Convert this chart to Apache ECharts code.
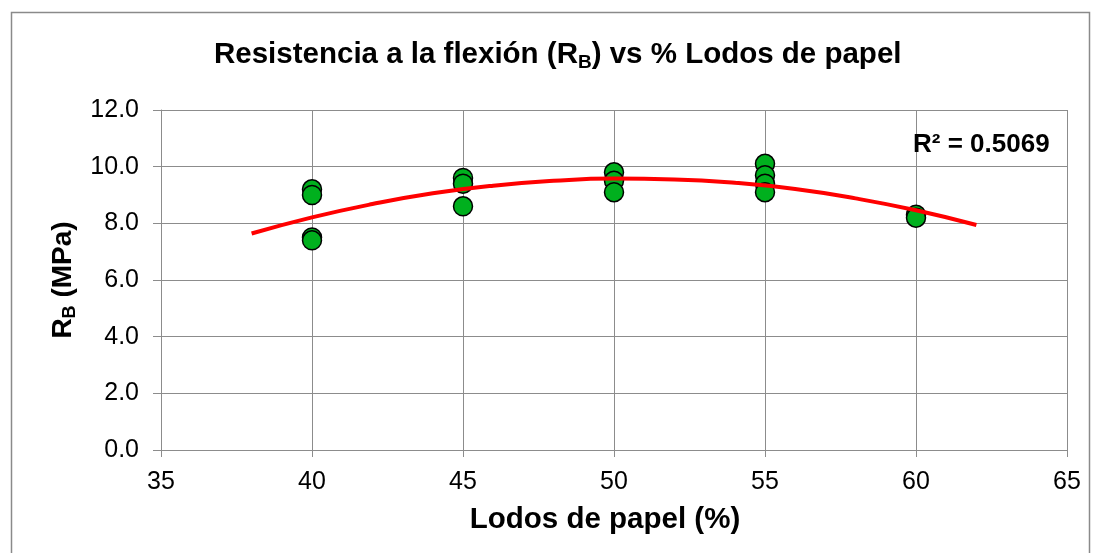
<!DOCTYPE html>
<html lang="es">
<head>
    <meta charset="UTF-8">
    <title>Resistencia a la flexión vs % Lodos de papel</title>
    <style>
        html, body { margin: 0; padding: 0; background: #fff; }
    </style>
</head>
<body>
<div id="main" style="width: 1094px;height:553px;"></div>
<script src="https://cdn.jsdelivr.net/npm/echarts@6/dist/echarts.min.js"></script>
<script>
    // puntos medidos
    var lodos = [40, 40, 40, 40, 45, 45, 45, 50, 50, 50, 55, 55, 55, 55, 60, 60];
    var rb = [9.2, 9.0, 7.5, 7.4, 9.6, 9.4, 8.6, 9.8, 9.5, 9.1, 10.1, 9.7, 9.4, 9.1, 8.3, 8.2];

    // linea de tendencia
    var trendX = [38, 40, 42, 44, 46, 48, 50, 52, 54, 56, 58, 60, 62];
    var trendY = [7.64, 8.21, 8.68, 9.06, 9.33, 9.50, 9.58, 9.55, 9.43, 9.21, 8.88, 8.46, 7.94];

    var xTicks = [35, 40, 45, 50, 55, 60, 65];
    var yTicks = [0, 2, 4, 6, 8, 10, 12];
    var r2Text = 'R² = 0.5069';

    var font = '"Liberation Sans", Arial, sans-serif';
    var gridColor = '#8c8c8c';

    var points = lodos.map(function (x, i) { return [x, rb[i]]; });
    var trend = trendX.map(function (x, i) { return [x, trendY[i]]; });

    var myChart = echarts.init(document.getElementById('main'));

    var option = {
        backgroundColor: '#fff',
        animation: false,
        title: {
            text: '{a|Resistencia a la flexión (R}{s|B}{a|) vs % Lodos de papel}',
            left: 214,
            top: 38,
            padding: 0,
            textStyle: {
                rich: {
                    a: { fontFamily: font, fontWeight: 'bold', fontSize: 29.5, color: '#000', lineHeight: 34, verticalAlign: 'middle' },
                    s: { fontFamily: font, fontWeight: 'bold', fontSize: 19, color: '#000', lineHeight: 19, verticalAlign: 'bottom' }
                }
            }
        },
        grid: {
            left: 161,
            right: 27,
            top: 110,
            bottom: 103
        },
        xAxis: {
            type: 'value',
            min: xTicks[0],
            max: xTicks[xTicks.length - 1],
            interval: 5,
            name: 'Lodos de papel (%)',
            nameLocation: 'middle',
            nameGap: 55,
            nameTextStyle: { fontFamily: font, fontWeight: 'bold', fontSize: 29.5, color: '#000', padding: [0, 18, 0, 0] },
            axisLine: { show: true, onZero: false, lineStyle: { color: gridColor, width: 1 } },
            axisTick: { show: true, inside: false, length: 7, lineStyle: { color: gridColor } },
            axisLabel: { fontFamily: font, fontSize: 25, color: '#000', margin: 20 },
            splitLine: { show: true, lineStyle: { color: gridColor, width: 1 } }
        },
        yAxis: {
            type: 'value',
            min: yTicks[0],
            max: yTicks[yTicks.length - 1],
            interval: 2,
            name: '{a|R}{s|B}{a| (MPa)}',
            nameLocation: 'middle',
            nameGap: 82,
            nameTextStyle: {
                rich: {
                    a: { fontFamily: font, fontWeight: 'bold', fontSize: 28, color: '#000', lineHeight: 32, verticalAlign: 'middle' },
                    s: { fontFamily: font, fontWeight: 'bold', fontSize: 18, color: '#000', lineHeight: 18, verticalAlign: 'bottom' }
                }
            },
            axisLine: { show: true, lineStyle: { color: gridColor, width: 1 } },
            axisTick: { show: true, inside: false, length: 8, lineStyle: { color: gridColor } },
            axisLabel: {
                fontFamily: font, fontSize: 25, color: '#000', margin: 22,
                formatter: function (v) { return v.toFixed(1); }
            },
            splitLine: { show: true, lineStyle: { color: gridColor, width: 1 } }
        },
        graphic: [
            {
                type: 'rect',
                silent: true,
                shape: { x: 11.5, y: 12.5, width: 1078, height: 600 },
                style: { fill: null, stroke: '#8a8a8a', lineWidth: 1.5 }
            },
            {
                type: 'text',
                left: 913,
                top: 132,
                z: 10,
                style: {
                    text: r2Text,
                    fontFamily: font,
                    fontWeight: 'bold',
                    fontSize: 26,
                    fill: '#000'
                }
            }
        ],
        series: [
            {
                name: 'Resistencia',
                type: 'scatter',
                data: points,
                symbol: 'circle',
                symbolSize: 19,
                itemStyle: { color: '#00b01e', borderColor: '#000', borderWidth: 1.5, opacity: 1 },
                z: 2
            },
            {
                name: 'Tendencia',
                type: 'line',
                data: trend,
                smooth: true,
                showSymbol: false,
                lineStyle: { color: '#ff0000', width: 4 },
                z: 3
            }
        ]
    };

    myChart.setOption(option);
</script>
</body>
</html>
